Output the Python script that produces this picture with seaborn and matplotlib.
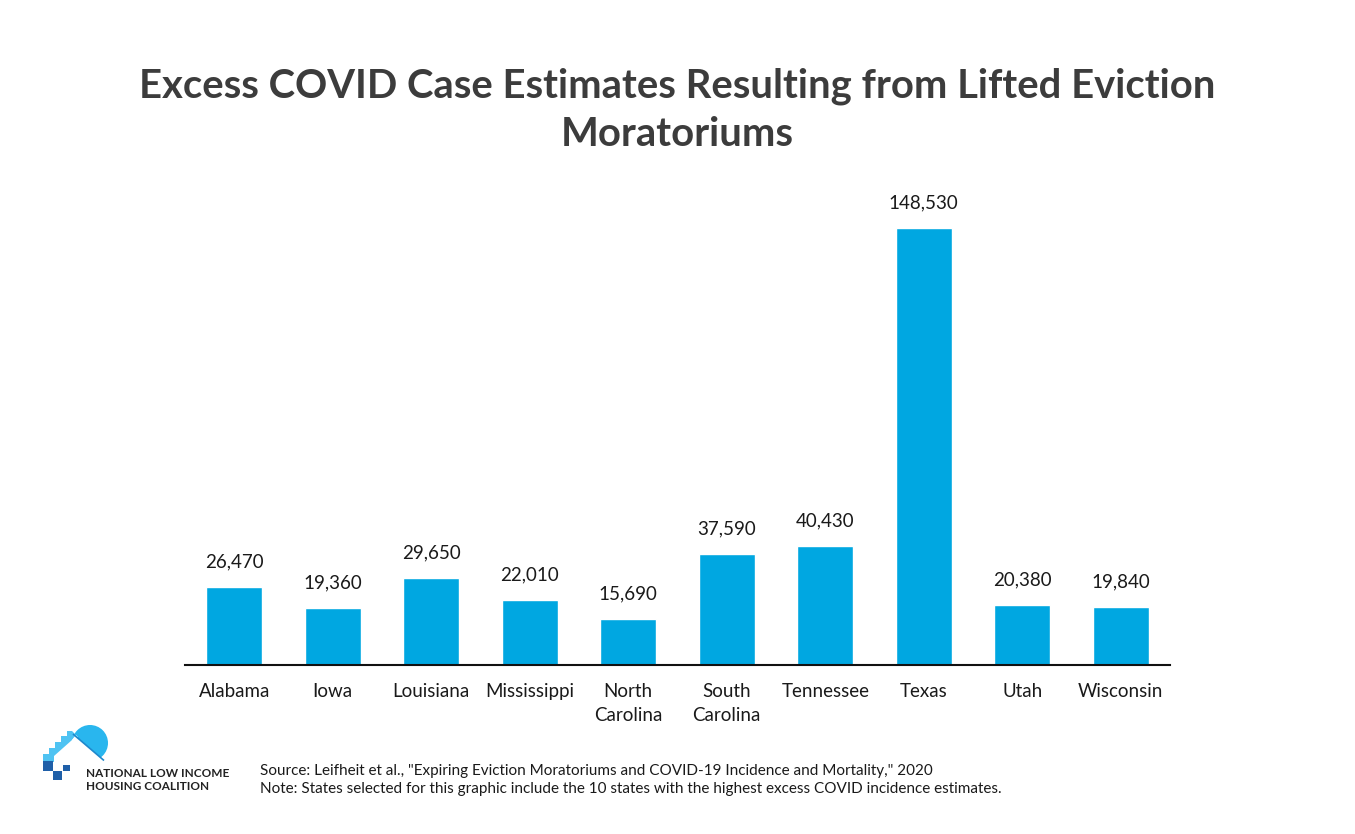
import matplotlib
matplotlib.use("Agg")
import matplotlib.pyplot as plt
import matplotlib.patches as mpatches
import pandas as pd
import seaborn as sns

states = ["Alabama", "Iowa", "Louisiana", "Mississippi", "North\nCarolina",
          "South\nCarolina", "Tennessee", "Texas", "Utah", "Wisconsin"]
cases = [26470, 19360, 29650, 22010, 15690, 37590, 40430, 148530, 20380, 19840]

title = "Excess COVID Case Estimates Resulting from Lifted Eviction\nMoratoriums"
source = ('Source: Leifheit et al., "Expiring Eviction Moratoriums and COVID-19 Incidence and Mortality," 2020\n'
          "Note: States selected for this graphic include the 10 states with the highest excess COVID incidence estimates.")
org = "NATIONAL LOW INCOME\nHOUSING COALITION"

sns.set_theme(style="white")
plt.rcParams["font.family"] = ["Lato", "DejaVu Sans"]

W, H = 1355, 834
fig = plt.figure(figsize=(W / 100, H / 100), dpi=100)
ax = fig.add_axes([185 / W, (H - 665) / H, 985 / W, 475 / H])

df = pd.DataFrame({"state": states, "cases": cases})
sns.barplot(data=df, x="state", y="cases", color="#00A7E1", saturation=1,
            width=0.57, ax=ax)
ax.set_ylim(0, 161450)
ax.set_xlim(-0.5, len(states) - 0.5)
ax.bar_label(ax.containers[0], labels=[f"{v:,}" for v in cases], padding=12,
             fontsize=13.5, color="#1a1a1a")

for s in ["top", "right", "left"]:
    ax.spines[s].set_visible(False)
ax.spines["bottom"].set_color("#111111")
ax.spines["bottom"].set_linewidth(1.5)
ax.set_yticks([])
ax.set_xlabel("")
ax.set_ylabel("")
ax.tick_params(axis="x", length=0, pad=13, labelsize=13.5, labelcolor="#1a1a1a")
for lbl in ax.get_xticklabels():
    lbl.set_verticalalignment("top")
    lbl.set_linespacing(1.5)

fig.text(677 / W, 1 - 110 / H, title, ha="center", va="center", fontsize=28.8,
         fontweight="bold", color="#3c3c3c", linespacing=1.37)

fig.text(260 / W, 1 - 780 / H, source, ha="left", va="center", fontsize=11,
         color="#1a1a1a", linespacing=1.45)

# NLIHC logo, drawn roughly in pixel coordinates (y measured from top)
lx0, ly0, lw, lh = 35, 718, 80, 70
lg = fig.add_axes([lx0 / W, 1 - (ly0 + lh) / H, lw / W, lh / H])
lg.set_xlim(lx0, lx0 + lw)
lg.set_ylim(ly0 + lh, ly0)
lg.axis("off")

lg.add_patch(mpatches.Circle((90, 743), 18, color="#29B6EE", lw=0))
lg.add_patch(mpatches.Polygon([(72, 733), (112, 767), (68, 767), (68, 733)],
                              closed=True, color="white", lw=0))
lg.plot([73, 104], [734, 760.5], color="#1E88CC", lw=1.2, solid_capstyle="butt")
band = [(43, 762), (43, 754), (49, 754), (49, 748), (55, 748), (55, 742),
        (61, 742), (61, 736), (67, 736), (67, 731), (72, 731), (76, 735),
        (72, 740), (54, 756), (54, 762)]
lg.add_patch(mpatches.Polygon(band, closed=True, color="#4FC3F2", lw=0))
lg.add_patch(mpatches.Polygon([(72, 740), (76, 735), (78, 737), (74, 741)],
                              closed=True, color="white", lw=0))
for (x0, y0, w, h) in [(43, 761, 10, 10), (53, 771, 9, 9), (63, 765, 7, 6)]:
    lg.add_patch(mpatches.Rectangle((x0, y0), w, h, color="#1F5FA8", lw=0))

fig.text(86 / W, 1 - 780 / H, org, ha="left", va="center", fontsize=8.5,
         fontweight="bold", color="#222222", linespacing=1.2)

fig.savefig("out.png", dpi=100, facecolor="white")
